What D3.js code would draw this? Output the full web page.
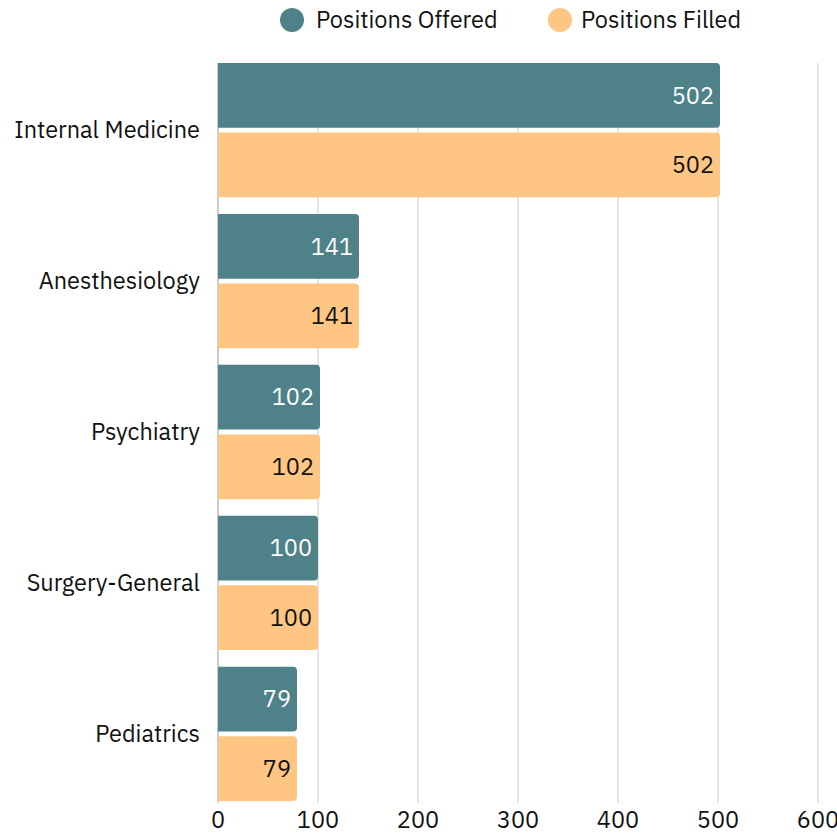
<!DOCTYPE html>
<html><head><meta charset="utf-8">
<script src="https://cdn.jsdelivr.net/npm/d3@7"></script>
<style>body{margin:0;background:#fff}svg{display:block;font-family:"IBM Plex Sans","Noto Sans",sans-serif}</style>
</head><body><svg id="c" width="837" height="833"></svg>
<script>
const categories = ["Internal Medicine","Anesthesiology","Psychiatry","Surgery-General","Pediatrics"];
const seriesNames = ["Positions Offered","Positions Filled"];
const offered = [502,141,102,100,79];
const filled = [502,141,102,100,79];
const xTicks = [0,100,200,300,400,500,600];
const colors = ["#4e8188","#ffc683"];
const labelColors = ["#ffffff","#111111"];
const FS = 23.5;

const svg = d3.select("#c");
const m = {left:218, right:19, top:63, bottom:32};
const W = 837, H = 833;
const x = d3.scaleLinear().domain([0,600]).range([m.left, W - m.right]);
const y = d3.scaleBand().domain(categories).range([m.top, H - m.bottom]).paddingInner(0.11).paddingOuter(0);
const ys = d3.scaleBand().domain(seriesNames).range([0, y.bandwidth()]).paddingInner(0.07);

// grid
svg.append("g").selectAll("line").data(xTicks.slice(1)).join("line")
  .attr("x1", d=>x(d)).attr("x2", d=>x(d)).attr("y1", m.top).attr("y2", H - m.bottom + 2)
  .attr("stroke","#cccccc").attr("stroke-width",1);
svg.append("line").attr("x1",x(0)).attr("x2",x(0)).attr("y1",m.top).attr("y2",H-m.bottom+2)
  .attr("stroke","#999").attr("stroke-width",1);

const data = categories.map((c,i)=>({c, vals:[offered[i], filled[i]]}));
function barPath(x0,y0,w,h,r){
  r = Math.min(r,w,h/2);
  return `M${x0},${y0}H${x0+w-r}Q${x0+w},${y0} ${x0+w},${y0+r}V${y0+h-r}Q${x0+w},${y0+h} ${x0+w-r},${y0+h}H${x0}Z`;
}
const g = svg.append("g");
data.forEach(d=>{
  d.vals.forEach((v,j)=>{
    const y0 = y(d.c) + ys(seriesNames[j]);
    const h = ys.bandwidth();
    g.append("path").attr("d", barPath(x(0), y0, x(v)-x(0), h, 4)).attr("fill", colors[j]);
    g.append("text").attr("x", x(v)-6).attr("y", y0 + h/2).attr("dy","0.35em")
      .attr("text-anchor","end").attr("font-size",FS).attr("fill",labelColors[j]).text(v);
  });
  svg.append("text").attr("x",200).attr("y", y(d.c)+y.bandwidth()/2).attr("dy","0.35em")
    .attr("text-anchor","end").attr("font-size",FS).attr("fill","#111").text(d.c);
});

// x axis labels
svg.append("g").selectAll("text").data(xTicks).join("text")
  .attr("x", d=>x(d)).attr("y", 820).attr("dy","0.35em").attr("text-anchor","middle")
  .attr("font-size",FS).attr("fill","#111").text(d=>d);

// legend
const leg = [{n:seriesNames[0], cx:292, tx:316},{n:seriesNames[1], cx:560, tx:581}];
leg.forEach((l,i)=>{
  svg.append("circle").attr("cx",l.cx).attr("cy",20).attr("r",12).attr("fill",colors[i]);
  svg.append("text").attr("x",l.tx).attr("y",20).attr("dy","0.35em").attr("font-size",FS).attr("fill","#111").text(l.n);
});
</script></body></html>
